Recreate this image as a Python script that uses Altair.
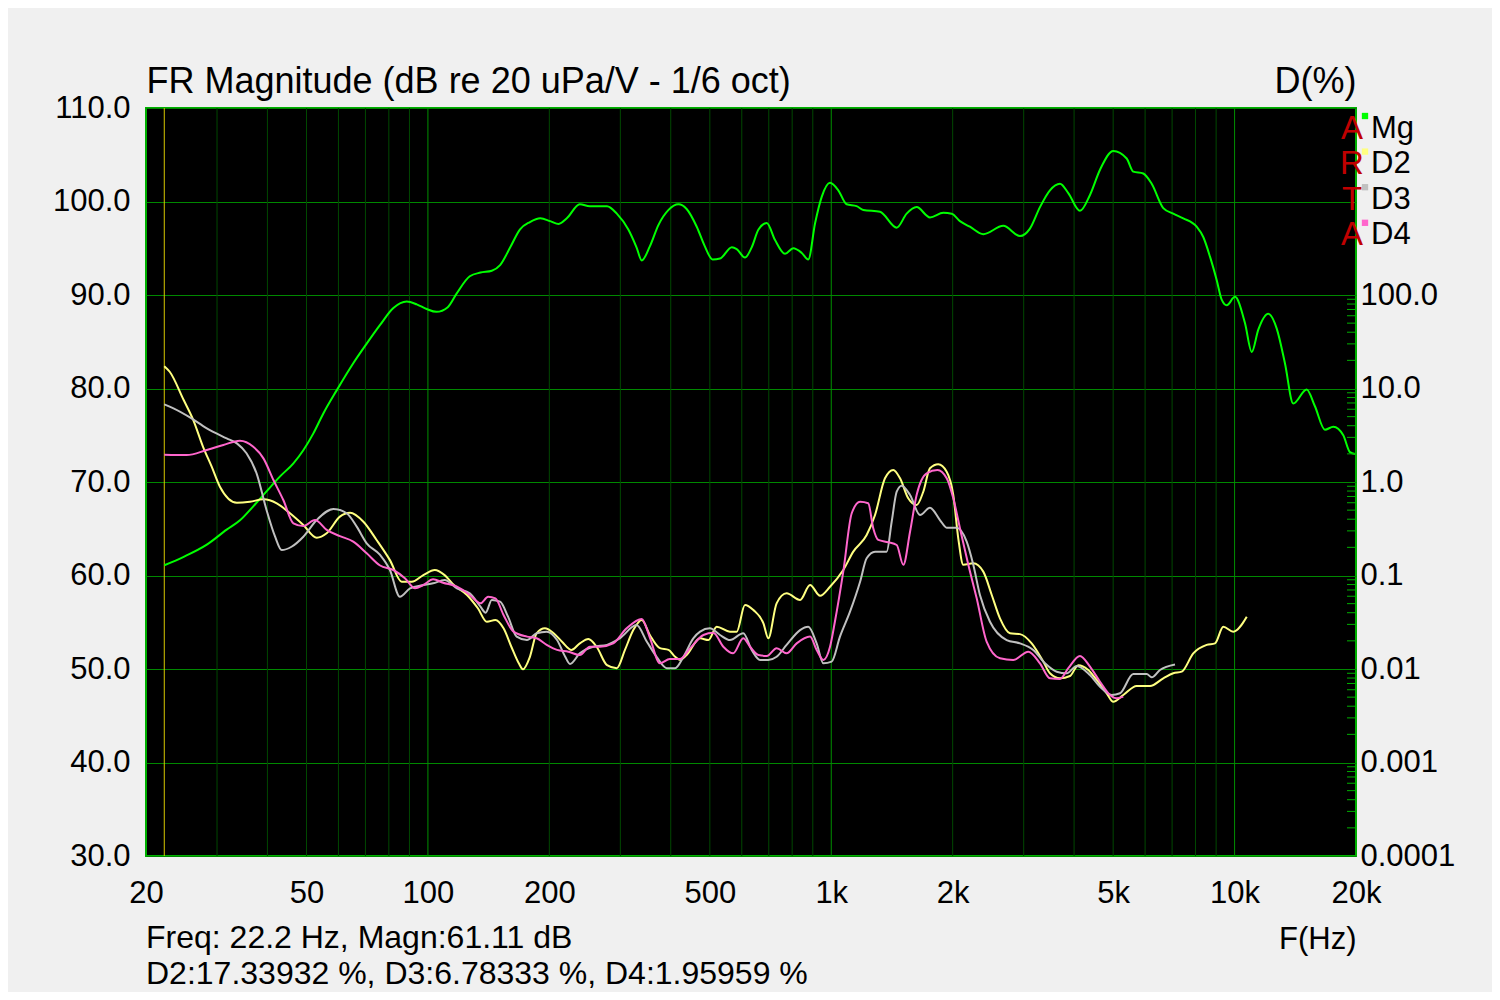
import altair as alt
import pandas as pd

FONT = "Liberation Sans"

# ---- magnitude (dB re 20 uPa/V, 1/6 oct) ----
mag_freq = [22.2, 24.8, 28.3, 31.7, 34.2, 36.9, 39.8, 43.0, 46.4, 49.1, 52.0, 55.0, 59.4, 65.3,
            70.5, 76.1, 82.1, 88.6, 93.8, 99.3, 105, 112, 118, 127, 135, 144, 151, 160, 169, 179,
            190, 201, 211, 221, 238, 252, 278, 294, 314, 329, 339, 355, 373, 395, 418, 438, 464,
            486, 508, 530, 567, 583, 611, 635, 660, 692, 725, 768, 805, 845, 877, 912, 947, 993,
            1041, 1092, 1156, 1201, 1321, 1453, 1538, 1628, 1757, 1896, 1989, 2085, 2207, 2382,
            2670, 2937, 3109, 3292, 3485, 3691, 3870, 4137, 4380, 4638, 5003, 5401, 5608, 5937,
            6230, 6656, 7047, 7461, 8054, 8363, 8690, 9028, 9290, 9559, 10020, 10610, 11030,
            11450, 12120, 12720, 13330, 13980, 15090, 15820, 16750, 17570, 18600, 19320, 19890]
mag_db = [61.1, 62.0, 63.3, 64.9, 65.9, 67.4, 69.0, 70.6, 72.0, 73.4, 75.2, 77.3, 79.8, 82.7,
          84.8, 86.8, 88.6, 89.3, 89.0, 88.5, 88.2, 88.7, 90.2, 92.0, 92.4, 92.6, 93.2, 95.1, 97.0,
          97.8, 98.2, 97.9, 97.6, 98.2, 99.7, 99.5, 99.5, 98.7, 97.0, 95.1, 93.7, 95.2, 97.5, 99.1,
          99.7, 99.2, 97.3, 95.2, 93.8, 93.9, 95.1, 94.9, 94.0, 95.1, 97.0, 97.7, 95.9, 94.4, 95.0,
          94.5, 93.8, 97.7, 100.5, 102.0, 101.2, 99.7, 99.5, 99.1, 98.9, 97.2, 98.7, 99.4, 98.3,
          98.8, 98.7, 97.9, 97.3, 96.5, 97.4, 96.3, 97.1, 99.4, 101.2, 101.9, 100.9, 99.0, 100.7,
          103.4, 105.4, 104.6, 103.2, 103.0, 101.9, 99.3, 98.7, 98.2, 97.3, 96.2, 94.1, 91.6, 89.5,
          88.9, 89.8, 87.0, 83.9, 86.3, 88.0, 86.4, 82.7, 78.4, 79.9, 78.1, 75.6, 75.9, 75.0,
          73.2, 73.0]

# ---- distortion (%) ----
d2_freq = [22.2, 22.9, 24.8, 26.2, 27.7, 29.1, 30.5, 33.6, 36.2, 39.1, 42.2, 45.5, 49.1, 53.0,
           56.1, 60.5, 64.1, 69.2, 74.6, 80.5, 86.1, 91.2, 97.4, 104, 110, 116, 125, 133, 140,
           147, 154, 161, 168, 172, 179, 186, 195, 205, 215, 227, 238, 250, 262, 278, 294, 308,
           323, 339, 355, 376, 395, 410, 422, 438, 473, 496, 520, 561, 583, 611, 641, 679, 698,
           732, 775, 837, 886, 938, 993, 1071, 1134, 1224, 1284, 1359, 1425, 1481, 1552, 1628,
           1691, 1757, 1842, 1933, 2007, 2065, 2125, 2250, 2382, 2500, 2620, 2774, 2937, 3140,
           3355, 3485, 3691, 3908, 4097, 4337, 4551, 4818, 5003, 5297, 5719, 6169, 6656, 7047,
           7393, 7899, 8527, 8942, 9376, 9926, 10720]
d2_pct = [17.34, 15.1, 7.53, 4.60, 2.38, 1.46, 0.890, 0.600, 0.615, 0.653, 0.592, 0.463, 0.347,
          0.254, 0.283, 0.426, 0.469, 0.376, 0.240, 0.146, 0.0858, 0.0858, 0.101, 0.1145, 0.101,
          0.0791, 0.0619, 0.0446, 0.0320, 0.0334, 0.0272, 0.0173, 0.0115, 0.00993, 0.0135, 0.0241,
          0.0272, 0.0241, 0.0196, 0.0160, 0.0188, 0.0209, 0.0173, 0.0110, 0.0102, 0.0160, 0.0261,
          0.0334, 0.0231, 0.0167, 0.0160, 0.0135, 0.0125, 0.0141, 0.0213, 0.0204, 0.0283, 0.0251,
          0.0251, 0.0484, 0.0428, 0.0308, 0.0213, 0.0504, 0.0645, 0.0547, 0.0791, 0.0608, 0.0759,
          0.1145, 0.180, 0.271, 0.444, 1.095, 1.344, 1.095, 0.669, 0.567, 0.787, 1.401, 1.546,
          1.288, 0.726, 0.250, 0.130, 0.135, 0.110, 0.0619, 0.0348, 0.0241, 0.0236, 0.0188,
          0.0120, 0.0090, 0.00795, 0.00841, 0.0110, 0.00976, 0.00763, 0.00550, 0.00447, 0.00527,
          0.00658, 0.00658, 0.00795, 0.0090, 0.00936, 0.0147, 0.0181, 0.0188, 0.0283, 0.0251,
          0.0363]

d3_freq = [22.2, 23.4, 25.7, 28.3, 31.7, 33.6, 35.5, 37.6, 39.8, 41.8, 43.4, 45.9, 49.1, 53.0,
           58.3, 62.9, 66.6, 70.5, 76.1, 80.5, 85.2, 90.3, 97.4, 103, 110, 118, 127, 135, 139,
           144, 151, 158, 166, 176, 186, 197, 209, 219, 225, 238, 257, 278, 299, 329, 349, 369,
           391, 410, 430, 455, 473, 500, 530, 561, 605, 635, 666, 698, 732, 775, 837, 877, 920,
           956, 1002, 1051, 1113, 1179, 1224, 1284, 1372, 1412, 1453, 1495, 1568, 1660, 1757,
           1860, 1933, 2047, 2167, 2250, 2337, 2475, 2722, 2937, 3169, 3388, 3622, 3835, 4061,
           4380, 4638, 4958, 5199, 5608, 6055, 6230, 6531, 7116]
d3_pct = [6.78, 6.14, 4.92, 3.75, 2.93, 2.59, 2.03, 1.239, 0.502, 0.260, 0.187, 0.203, 0.260,
          0.392, 0.514, 0.463, 0.333, 0.221, 0.166, 0.1145, 0.0593, 0.0729, 0.0791, 0.0825,
          0.0895, 0.0729, 0.0645, 0.0464, 0.0400, 0.0547, 0.0525, 0.0363, 0.0222, 0.0204, 0.0241,
          0.0251, 0.0204, 0.0135, 0.0113, 0.0147, 0.0173, 0.0181, 0.0213, 0.0295, 0.0196, 0.0135,
          0.0102, 0.0102, 0.0135, 0.0213, 0.0251, 0.0272, 0.0231, 0.0204, 0.0241, 0.0160, 0.0125,
          0.0125, 0.0135, 0.0181, 0.0261, 0.0283, 0.0188, 0.0115, 0.0120, 0.0222, 0.0410, 0.0858,
          0.153, 0.180, 0.180, 0.376, 0.787, 0.913, 0.726, 0.444, 0.531, 0.392, 0.325, 0.325,
          0.230, 0.130, 0.0619, 0.0320, 0.0204, 0.0188, 0.0160, 0.0115, 0.00936, 0.0090, 0.0108,
          0.00862, 0.00647, 0.00527, 0.00550, 0.00884, 0.00884, 0.00815, 0.00976, 0.0112]

d4_freq = [22.2, 25.2, 28.3, 31.1, 34.2, 36.9, 39.1, 41.4, 43.8, 46.4, 49.1, 52.5, 56.1, 60.5,
           65.3, 70.5, 76.1, 82.1, 87.7, 92.9, 97.4, 103, 109, 118, 127, 135, 141, 147, 154, 163,
           176, 186, 197, 209, 223, 238, 252, 267, 288, 311, 339, 355, 376, 398, 422, 447, 482,
           510, 540, 571, 605, 629, 660, 692, 732, 775, 821, 886, 920, 956, 993, 1021, 1071, 1124,
           1179, 1235, 1271, 1308, 1385, 1453, 1509, 1568, 1628, 1724, 1834, 1933, 2007, 2085,
           2187, 2294, 2428, 2620, 2827, 3080, 3292, 3485, 3691, 3870, 4137, 4380, 4638, 4910,
           5100, 5297]
d4_pct = [1.96, 1.94, 2.20, 2.49, 2.76, 2.38, 1.79, 1.05, 0.642, 0.362, 0.338, 0.392, 0.307,
          0.264, 0.230, 0.173, 0.128, 0.1145, 0.0933, 0.0729, 0.0791, 0.0911, 0.0837, 0.0759,
          0.0619, 0.0504, 0.0593, 0.0570, 0.0378, 0.0251, 0.0222, 0.0213, 0.0181, 0.0160, 0.0153,
          0.0141, 0.0173, 0.0173, 0.0188, 0.0272, 0.0343, 0.0217, 0.0115, 0.0128, 0.0128, 0.0167,
          0.0231, 0.0244, 0.0173, 0.0147, 0.0213, 0.0173, 0.0141, 0.0138, 0.0167, 0.0147, 0.0188,
          0.0222, 0.0160, 0.0125, 0.0173, 0.0320, 0.110, 0.463, 0.615, 0.592, 0.320, 0.240, 0.227,
          0.212, 0.130, 0.294, 0.726, 1.239, 1.344, 1.095, 0.669, 0.320, 0.130, 0.0570, 0.0196,
          0.0130, 0.0125, 0.0153, 0.0115, 0.00795, 0.00782, 0.0102, 0.0138, 0.0106, 0.00731,
          0.00527, 0.00486, 0.00506]

# cursor readout
cursor_freq = 22.2
cursor_mag = 61.11
cursor_d2, cursor_d3, cursor_d4 = 17.33932, 6.78333, 1.95959

# axes / grid
label_freqs = [20, 50, 100, 200, 500, 1000, 2000, 5000, 10000, 20000]
minor_grid = [30, 40, 50, 60, 70, 80, 90, 200, 300, 400, 500, 600, 700, 800, 900,
              2000, 3000, 4000, 5000, 6000, 7000, 8000, 9000]
major_grid = [100, 1000, 10000]
db_ticks = [30, 40, 50, 60, 70, 80, 90, 100, 110]
pct_ticks = [0.0001, 0.001, 0.01, 0.1, 1, 10, 100]
pct_minor = [m * dec for dec in [0.0001, 0.001, 0.01, 0.1, 1, 10] for m in range(2, 10)]

series_names = ["Mg", "D2", "D3", "D4"]
series_colors = ["#00ff00", "#ffff80", "#c0c0c0", "#ff66cc"]

W, H = 1210, 748

mag_df = pd.DataFrame({"freq": mag_freq, "db": mag_db, "series": "Mg"})
dist_df = pd.concat([
    pd.DataFrame({"freq": d2_freq, "pct": d2_pct, "series": "D2"}),
    pd.DataFrame({"freq": d3_freq, "pct": d3_pct, "series": "D3"}),
    pd.DataFrame({"freq": d4_freq, "pct": d4_pct, "series": "D4"}),
])

x_enc = alt.X("freq:Q",
              scale=alt.Scale(type="log", domain=[20, 20000], nice=False),
              axis=alt.Axis(values=label_freqs,
                            labelExpr="datum.value >= 1000 ? toString(datum.value / 1000) + 'k' : toString(datum.value)",
                            grid=False, ticks=False, domain=False, labelFlush=False, labelOverlap=False,
                            labelPadding=22, labelFontSize=31,
                            title="F(Hz)", titleAlign="right", titleBaseline="alphabetic",
                            titleX=W, titleY=92, titleFontSize=31, titleFontWeight="normal"))

color_enc = alt.Color("series:N",
                      scale=alt.Scale(domain=series_names, range=series_colors),
                      legend=None)

db_enc = alt.Y("db:Q", scale=alt.Scale(domain=[30, 110], nice=False, zero=False),
               axis=alt.Axis(orient="left", values=db_ticks, format=".1f", grid=True, gridColor="#008800",
                             ticks=False, domain=False, labelPadding=16, labelFontSize=31,
                             title="FR Magnitude (dB re 20 uPa/V - 1/6 oct)", titleAngle=0,
                             titleAlign="left", titleBaseline="alphabetic", titleX=0, titleY=-16,
                             titleFontSize=36, titleFontWeight="normal"))

pct_enc = alt.Y("pct:Q", scale=alt.Scale(type="log", domain=[0.0001, 10000], nice=False),
                axis=alt.Axis(orient="right", values=pct_ticks,
                              labelExpr="datum.value >= 1 ? format(datum.value, '.1f') : toString(datum.value)",
                              grid=False, ticks=False, domain=False, labelPadding=4, labelFontSize=31,
                              labelFlush=False, labelOverlap=False,
                              title="D(%)", titleAngle=0, titleAlign="right", titleBaseline="alphabetic",
                              titleX=0, titleY=-16, titleFontSize=36, titleFontWeight="normal"))

grid_minor = alt.Chart(pd.DataFrame({"freq": minor_grid})).mark_rule(
    color="#004800", strokeWidth=1).encode(x=x_enc)
grid_major = alt.Chart(pd.DataFrame({"freq": major_grid})).mark_rule(
    color="#009000", strokeWidth=1).encode(x=x_enc)

cursor = alt.Chart(pd.DataFrame({"freq": [cursor_freq]})).mark_rule(
    color="#d8c800", strokeWidth=1).encode(x=x_enc)

mag_line = alt.Chart(mag_df).mark_line(strokeWidth=2, interpolate="monotone").encode(
    x=x_enc, y=db_enc, color=color_enc)

dist_lines = alt.Chart(dist_df).mark_line(strokeWidth=2, interpolate="monotone").encode(
    x=x_enc, y=pct_enc, color=color_enc)

minor_ticks = alt.Chart(pd.DataFrame({"pct": pct_minor})).mark_rule(
    color="#00b000", strokeWidth=1).encode(y=pct_enc, x=alt.value(W - 9), x2=alt.value(W))

# ARTA logo and legend at the right edge
arta = alt.Chart(pd.DataFrame({"t": ["A\nR\nT\nA"]})).mark_text(
    align="center", baseline="alphabetic", fontSize=33, color="#c00000",
    lineBreak="\n", lineHeight=35.6).encode(x=alt.value(1206), y=alt.value(30.5), text="t:N")

legend_swatches = [
    alt.Chart(pd.DataFrame({"series": [name]})).mark_square(
        size=40, color=col, opacity=1, filled=True).encode(x=alt.value(1219), y=alt.value(8 + 35.6 * i))
    for i, (name, col) in enumerate(zip(series_names, series_colors))
]
legend_labels = alt.Chart(pd.DataFrame({"t": ["\n".join(series_names)]})).mark_text(
    align="left", baseline="alphabetic", fontSize=31, color="black",
    lineBreak="\n", lineHeight=35.6).encode(x=alt.value(1225), y=alt.value(29.5), text="t:N")

readout_text = (f"Freq: {cursor_freq} Hz, Magn:{cursor_mag} dB\n"
                f"D2:{cursor_d2} %, D3:{cursor_d3} %, D4:{cursor_d4} %")
readout = alt.Chart(pd.DataFrame({"t": [readout_text]})).mark_text(
    align="left", baseline="alphabetic", fontSize=32, color="black",
    lineBreak="\n", lineHeight=36).encode(x=alt.value(0), y=alt.value(840), text="t:N")

db_group = alt.layer(grid_minor, grid_major, cursor, mag_line)
pct_group = alt.layer(dist_lines, minor_ticks)

chart = alt.layer(db_group, pct_group, arta, *legend_swatches, legend_labels, readout).resolve_scale(
    y="independent").properties(
    width=W, height=H,
    autosize=alt.AutoSizeParams(type="none"),
    padding={"left": 138, "top": 100, "right": 136, "bottom": 136},
    background="#f0f0f0",
).configure(font=FONT).configure_view(
    fill="black", stroke="#00b000", strokeWidth=2
).configure_axis(labelColor="black", titleColor="black", labelFont=FONT, titleFont=FONT)

chart.save("out.html", embed_options={"renderer": "svg", "actions": False})
